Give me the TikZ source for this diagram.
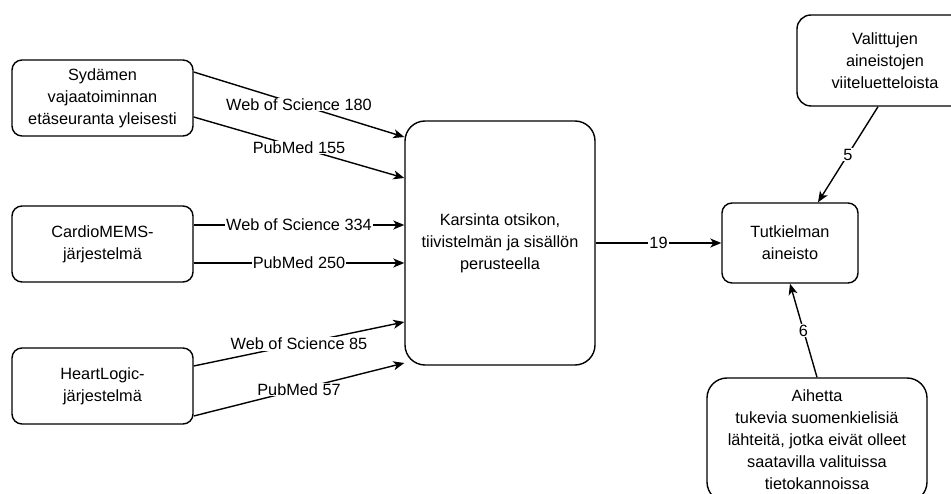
\documentclass[tikz,border=0pt]{standalone}
\usepackage{fontspec}
\setmainfont{Liberation Sans}
\usetikzlibrary{arrows.meta}
\begin{document}
\begin{tikzpicture}[x=1pt,y=-1pt,
  box/.style={draw=black,line width=1.4pt,fill=white,align=center,font=\fontsize{16.3}{22}\selectfont,inner sep=0pt},
  conn/.style={draw=black,line width=1.4pt,-{Stealth[length=11pt,width=9pt,inset=3pt]}},
  lbl/.style={fill=white,font=\fontsize{16.3}{19}\selectfont,inner sep=1pt}
]
\useasboundingbox (0,0) rectangle (951,494);
\node[box,rounded corners=10pt,minimum width=181pt,minimum height=76pt] (A) at (102.5,98) {Sydämen\\vajaatoiminnan\\etäseuranta yleisesti};
\node[box,rounded corners=10pt,minimum width=181pt,minimum height=76pt] (B) at (102.5,244) {CardioMEMS-\\järjestelmä};
\node[box,rounded corners=10pt,minimum width=181pt,minimum height=76pt] (C) at (102.5,386) {HeartLogic-\\järjestelmä};
\node[box,rounded corners=20pt,minimum width=190pt,minimum height=244pt] (K) at (500,243) {Karsinta otsikon,\\tiivistelmän ja sisällön\\perusteella};
\node[box,rounded corners=10pt,minimum width=136pt,minimum height=80pt] (T) at (790,243) {Tutkielman\\aineisto};
\node[box,rounded corners=14pt,minimum width=176pt,minimum height=91pt] (V) at (885,60.5) {Valittujen\\aineistojen\\viiteluetteloista};
\node[box,rounded corners=20pt,minimum width=220pt,minimum height=124pt] (H) at (817,440) {Aihetta\\tukevia suomenkielisiä\\lähteitä, jotka eivät olleet\\saatavilla valituissa\\tietokannoissa};

\draw[conn] ([yshift=26pt]A.east) -- node[lbl]{Web of Science 180} ([yshift=106pt]K.west);
\draw[conn] ([yshift=-19pt]A.east) -- node[lbl]{PubMed 155} ([yshift=65pt]K.west);
\draw[conn] ([yshift=19pt]B.east) -- node[lbl]{Web of Science 334} ([yshift=18pt]K.west);
\draw[conn] ([yshift=-19pt]B.east) -- node[lbl]{PubMed 250} ([yshift=-20pt]K.west);
\draw[conn] ([yshift=20pt]C.east) -- node[lbl]{Web of Science 85} ([yshift=-79pt]K.west);
\draw[conn] ([yshift=-30pt]C.east) -- node[lbl]{PubMed 57} ([yshift=-120pt]K.west);
\draw[conn] (K.east) -- node[lbl]{19} (T.west);
\draw[conn] ([xshift=-7pt]V.south) -- node[lbl]{5} ([xshift=28pt]T.north);
\draw[conn] (H.north) -- node[lbl]{6} (T.south);
\end{tikzpicture}
\end{document}
